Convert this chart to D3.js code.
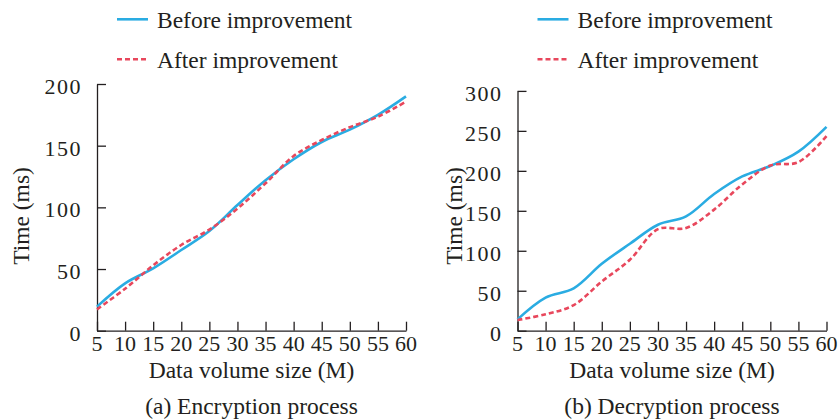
<!DOCTYPE html>
<html>
<head>
<meta charset="utf-8">
<script src="https://cdn.jsdelivr.net/npm/d3@7"></script>
<style>
  body { margin: 0; background: #fff; }
  svg text { font-family: "Liberation Serif", "Times New Roman", serif; fill: #231f20; }
  .axis path, .axis line { stroke: #231f20; stroke-width: 1.3; }
</style>
</head>
<body>
<div id="chart"></div>
<script>
// data volume (M)
const sizes = [5, 10, 15, 20, 25, 30, 35, 40, 45, 50, 55, 60];

// (a) encryption time, ms
const encBefore = [19.5, 38.4, 50.5, 65.4, 80.8, 101.9, 122, 139, 153, 163, 175, 190];
const encAfter  = [17.3, 34, 53, 69.5, 82, 99, 119.5, 141.6, 154.6, 165, 173.5, 185.7];

// (b) decryption time, ms
const decBefore = [14.2, 41.4, 53, 83.7, 108.8, 132.6, 143, 171, 193, 206, 224, 255];
const decAfter  = [13.4, 20.5, 32, 61.5, 88.7, 127, 128.5, 151.5, 183, 206.7, 210.9, 243.5];

const encTicks = [0, 50, 100, 150, 200];
const decTicks = [0, 50, 100, 150, 200, 250, 300];

const seriesNames = ['Before improvement', 'After improvement'];
const blue = '#2aace2', red = '#e8475c';

const width = 839, height = 419;
const svg = d3.select('#chart').append('svg')
  .attr('width', width)
  .attr('height', height);

function drawPanel(left, before, after, ticks, yMax, yTop, caption, titleX) {
  const g = svg.append('g');
  const x = d3.scaleLinear().domain([5, 60]).range([left, left + 309]);
  const y = d3.scaleLinear().domain([0, yMax]).range([330.7, yTop]);

  // x axis, ticks point inward
  g.append('g')
    .attr('class', 'axis')
    .attr('transform', 'translate(0,330.7)')
    .call(d3.axisBottom(x).tickValues(sizes).tickSizeInner(-9).tickSizeOuter(0).tickPadding(0))
    .call(a => a.selectAll('text').remove());
  g.selectAll('.xlab').data(sizes).enter().append('text')
    .attr('x', d => x(d))
    .attr('y', 351)
    .attr('text-anchor', 'middle')
    .style('font-size', '22px')
    .text(d => d);

  // y axis
  g.append('g')
    .attr('class', 'axis')
    .attr('transform', `translate(${left},0)`)
    .call(d3.axisLeft(y).tickValues(ticks).tickSizeInner(-9).tickSizeOuter(0))
    .call(a => a.selectAll('text').remove());
  g.selectAll('.ylab').data(ticks).enter().append('text')
    .attr('x', left - 15)
    .attr('y', d => y(d) + 10)
    .attr('text-anchor', 'end')
    .style('font-size', '22px')
    .style('letter-spacing', '1.5px')
    .text(d => d);

  const line = d3.line()
    .curve(d3.curveCatmullRom.alpha(0.5))
    .x((d, i) => x(sizes[i]))
    .y(d => y(d));

  g.append('path')
    .datum(before)
    .attr('fill', 'none')
    .attr('stroke', blue)
    .attr('stroke-width', 2.6)
    .attr('d', line);
  g.append('path')
    .datum(after)
    .attr('fill', 'none')
    .attr('stroke', red)
    .attr('stroke-width', 2.6)
    .attr('stroke-dasharray', '5,3')
    .attr('d', line);

  // legend
  const lg = g.append('g');
  seriesNames.forEach((name, i) => {
    const ly = 19.3 + i * 40;
    lg.append('line')
      .attr('x1', left + 20).attr('x2', left + 51)
      .attr('y1', ly).attr('y2', ly)
      .attr('stroke', i === 0 ? blue : red)
      .attr('stroke-width', 2.6)
      .attr('stroke-dasharray', i === 0 ? null : '5,3');
    lg.append('text')
      .attr('x', left + 60)
      .attr('y', ly + 8.5)
      .style('font-size', '23.5px')
      .text(name);
  });

  // axis titles
  g.append('text')
    .attr('x', left + 154.5)
    .attr('y', 378)
    .attr('text-anchor', 'middle')
    .style('font-size', '23.5px')
    .text('Data volume size (M)');
  g.append('text')
    .attr('transform', `translate(${titleX},216) rotate(-90)`)
    .attr('text-anchor', 'middle')
    .style('font-size', '23.5px')
    .text('Time (ms)');
  g.append('text')
    .attr('x', left + 154.5)
    .attr('y', 414)
    .attr('text-anchor', 'middle')
    .style('font-size', '23.5px')
    .text(caption);
}

drawPanel(97, encBefore, encAfter, encTicks, 200, 84, '(a) Encryption process', 28.5);
drawPanel(517.5, decBefore, decAfter, decTicks, 300, 90.9, '(b) Decryption process', 462);
</script>
</body>
</html>
